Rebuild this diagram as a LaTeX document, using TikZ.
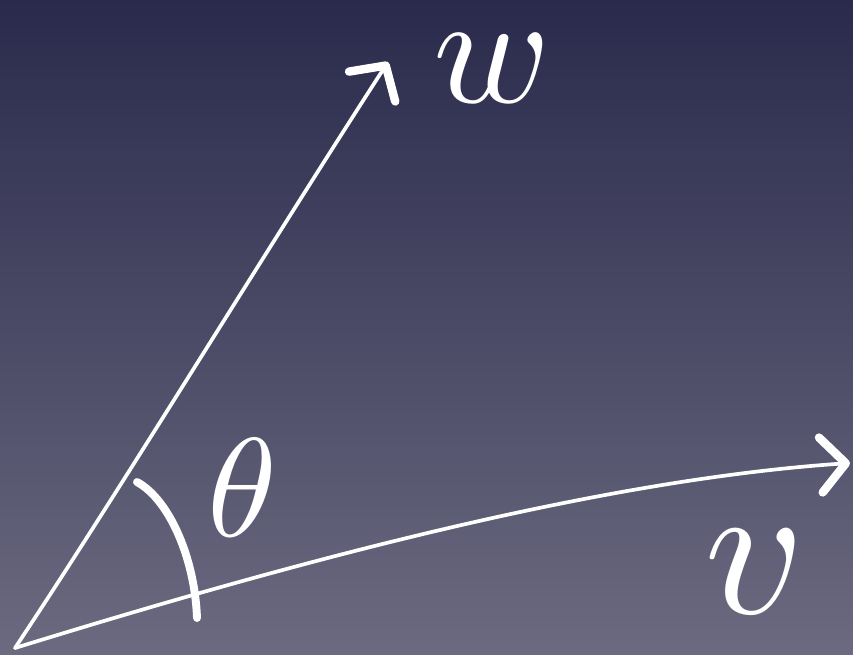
\documentclass[tikz,border=0pt]{standalone}
\usepackage{graphicx}
\usetikzlibrary{arrows.meta}
\definecolor{bgtop}{HTML}{2A2A4C}
\definecolor{bgbottom}{HTML}{6B6A80}
\tikzset{
  vec/.style={draw=white, line width=2.1pt, line cap=round,
    -{Straight Barb[length=5mm, width=11mm, line width=4.8pt, round]}},
  lbl/.style={text=white, inner sep=0pt}
}
\begin{document}
\begin{tikzpicture}[x=0.02cm,y=-0.02cm]
\shade[top color=bgtop, bottom color=bgbottom] (0,0) rectangle (853,654);
\coordinate (o) at (15,648);
\coordinate (w) at (388,62);
\coordinate (v) at (850,463);
\draw[vec] (o) .. controls (120,490) and (260,260) .. (w);
\draw[vec] (o) .. controls (300,560) and (600,480) .. (v);
\draw[white, line width=4.5pt, line cap=round] (137,482) .. controls (170,500) and (195,560) .. (197,618);
\node[lbl] (wlabel) at (492,68) {\scalebox{9}{$w$}};
\node[lbl] (theta) at (242,488) {\scalebox{8}{$\theta$}};
\node[lbl] (vlabel) at (755,572) {\scalebox{11}{$v$}};
\end{tikzpicture}
\end{document}
